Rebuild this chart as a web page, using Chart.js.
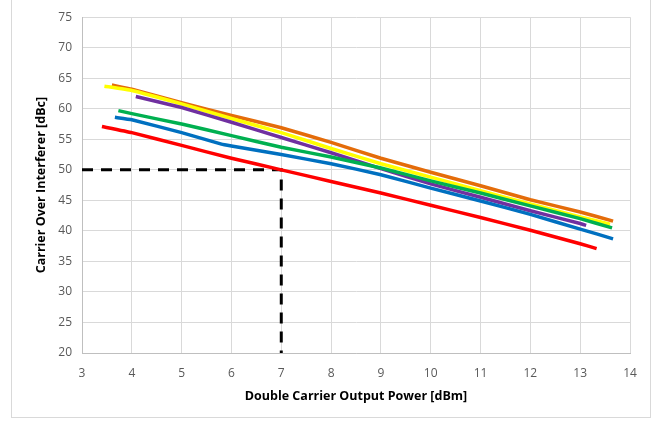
<!DOCTYPE html>
<html>
<head>
<meta charset="utf-8">
<script src="https://cdn.jsdelivr.net/npm/chart.js@4.4.0/dist/chart.umd.min.js"></script>
<style>
  html, body { margin: 0; padding: 0; background: #fff; }
  #wrap { width: 656px; height: 423px; }
</style>
</head>
<body>
<div id="wrap"><canvas id="cotChart" width="656" height="423"></canvas></div>
<script>
// donnees
const xTicks = [3, 4, 5, 6, 7, 8, 9, 10, 11, 12, 13, 14];
const yTicks = [20, 25, 30, 35, 40, 45, 50, 55, 60, 65, 70, 75];

const redX = [3.4, 4, 5, 6, 7, 8, 9, 10, 11, 12, 13, 13.33];
const redY = [57.1, 56.1, 54, 51.9, 50, 48.1, 46.2, 44.2, 42.2, 40.1, 37.9, 37.1];

const blueX = [3.66, 4, 5, 5.8, 6, 7, 8, 9, 10, 11, 12, 13, 13.66];
const blueY = [58.6, 58.2, 56.1, 54.2, 53.9, 52.5, 51, 49.2, 47, 44.9, 42.7, 40.3, 38.7];

const greenX = [3.73, 4, 5, 6, 7, 8, 9, 10, 11, 12, 13, 13.64];
const greenY = [59.7, 59.2, 57.5, 55.6, 53.7, 52.1, 50.3, 48.2, 46.2, 44.1, 42, 40.5];

const purpleX = [4.08, 5, 6, 7, 8, 9, 10, 11, 12, 13, 13.12];
const purpleY = [62, 60.2, 57.8, 55.3, 52.8, 50.2, 47.7, 45.5, 43.3, 41.2, 40.9];

const yellowX = [3.45, 4, 5, 6, 7, 8, 9, 10, 11, 12, 13, 13.6];
const yellowY = [63.7, 63, 60.8, 58.4, 56.1, 53.5, 51, 48.8, 46.6, 44.4, 42.3, 41.1];

const orangeX = [3.6, 4, 5, 6, 7, 8, 9, 10, 11, 12, 13, 13.66];
const orangeY = [63.9, 63.2, 61, 58.9, 56.9, 54.5, 51.9, 49.6, 47.4, 45.1, 43.1, 41.6];

// repere pointille a 7 dBm / 50 dBc
const markerX = [3, 7, 7];
const markerY = [50, 50, 20];

function pts(xs, ys) {
    return xs.map((x, i) => ({ x: x, y: ys[i] }));
}

function serie(xs, ys, color) {
    return {
        data: pts(xs, ys),
        borderColor: color,
        backgroundColor: color,
        borderWidth: 3.5,
        pointRadius: 0,
        showLine: true,
        tension: 0.1,
        borderCapStyle: 'butt'
    };
}

// fond blanc + cadre gris
const cadre = {
    id: 'cadre',
    beforeDraw(chart) {
        const c = chart.ctx;
        c.save();
        c.fillStyle = '#ffffff';
        c.fillRect(0, 0, chart.width, chart.height);
        c.strokeStyle = '#d9d9d9';
        c.lineWidth = 1;
        c.strokeRect(11.5, -1, 639, 418.5);
        c.restore();
    }
};

const ctx = document.getElementById('cotChart');
new Chart(ctx, {
    type: 'scatter',
    data: {
        datasets: [
            serie(redX, redY, '#ff0000'),
            serie(blueX, blueY, '#0070c0'),
            serie(greenX, greenY, '#00b050'),
            serie(purpleX, purpleY, '#7030a0'),
            serie(yellowX, yellowY, '#ffff00'),
            serie(orangeX, orangeY, '#e46c0a'),
            {
                data: pts(markerX, markerY),
                borderColor: '#000000',
                borderWidth: 3,
                borderDash: [11, 8],
                pointRadius: 0,
                showLine: true,
                tension: 0
            }
        ]
    },
    options: {
        responsive: false,
        animation: false,
        layout: { padding: { left: 0, top: 16, right: 26, bottom: 0 } },
        plugins: {
            legend: { display: false },
            tooltip: { enabled: false }
        },
        scales: {
            x: {
                type: 'linear',
                min: 3,
                max: 14,
                afterBuildTicks(scale) { scale.ticks = xTicks.map(v => ({ value: v })); },
                afterFit(scale) { scale.height = 70; },
                grid: { color: '#d9d9d9', drawTicks: false },
                border: { color: '#bfbfbf' },
                ticks: { color: '#595959', padding: 13, font: { family: 'Open Sans', size: 12 } },
                title: {
                    display: true,
                    text: 'Double Carrier Output Power [dBm]',
                    color: '#000000',
                    padding: { top: 0, bottom: 19 },
                    font: { family: 'Open Sans', size: 12.5, weight: 'bold' }
                }
            },
            y: {
                type: 'linear',
                min: 20,
                max: 75,
                afterBuildTicks(scale) { scale.ticks = yTicks.map(v => ({ value: v })); },
                afterFit(scale) { scale.width = 82; },
                grid: { color: '#d9d9d9', drawTicks: false },
                border: { color: '#bfbfbf' },
                ticks: { color: '#595959', padding: 10, font: { family: 'Open Sans', size: 12 } },
                title: {
                    display: true,
                    text: 'Carrier Over Interferer [dBc]',
                    color: '#000000',
                    padding: { top: 34, bottom: 0 },
                    font: { family: 'Open Sans', size: 12.5, weight: 'bold' }
                }
            }
        }
    },
    plugins: [cadre]
});
</script>
</body>
</html>
